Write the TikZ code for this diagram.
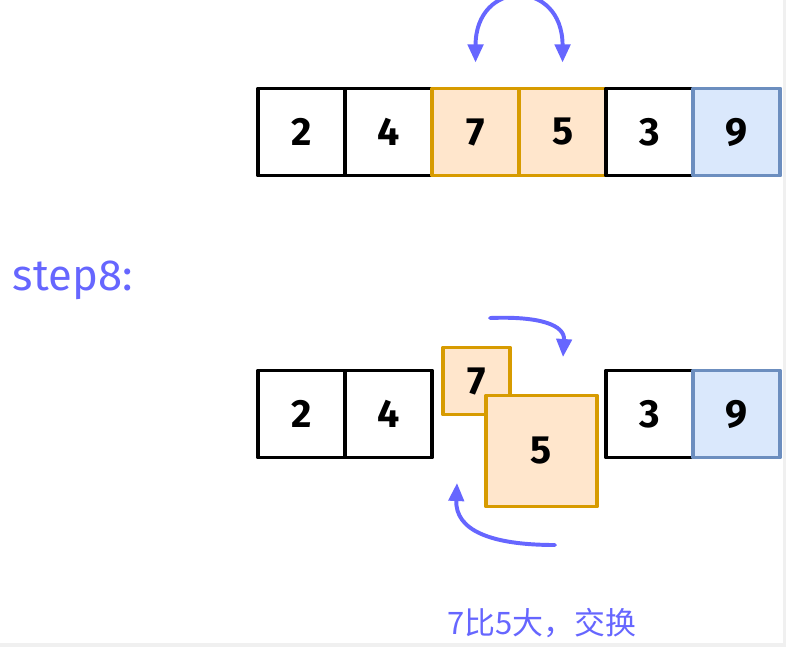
\documentclass[tikz,border=0pt]{standalone}
\usepackage{fontspec}
\setmainfont{Fira Sans}
\newfontfamily\cjkfont{Noto Sans CJK SC}
\usetikzlibrary{arrows.meta, positioning}
\definecolor{swapfill}{HTML}{FFE6CC}
\definecolor{swapline}{HTML}{D79B00}
\definecolor{sortfill}{HTML}{DAE8FC}
\definecolor{sortline}{HTML}{6C8EBF}
\definecolor{arrowblue}{HTML}{6666FF}
\definecolor{framegray}{HTML}{F0F0F0}
\tikzset{
  every picture/.style={line cap=round, line join=round},
  % array cells
  cell/.style={draw=black, line width=2.8pt, fill=white, minimum size=2.175cm,
    inner sep=0pt, outer sep=0pt, font=\fontsize{28}{32}\selectfont\bfseries},
  cellswap/.style={cell, draw=swapline, fill=swapfill},
  cellsorted/.style={cell, draw=sortline, fill=sortfill},
  % swap arrows
  swaparrow/.style={arrowblue, line width=2.8pt, -{Triangle[length=0.45cm, width=0.38cm]}},
}

\begin{document}
\begin{tikzpicture}[x=0.025cm, y=-0.025cm]
  \useasboundingbox (0,0) rectangle (786,647);
  \fill[white] (0,0) rectangle (786,647);
  \fill[framegray] (783,0) rectangle (786,647);
  \fill[framegray] (0,643) rectangle (786,647);
  % row before the swap
  \node[cell] (a1) at (301.5,132) {2};
  \node[cell, right=0pt of a1] (a2) {4};
  \node[cellswap, right=0pt of a2] (a3) {7};
  \node[cellswap, right=0pt of a3] (a4) {5};
  \node[cell, right=0pt of a4] (a5) {3};
  \node[cellsorted, right=0pt of a5] (a6) {9};
  \coordinate (t3) at ([yshift=0.65cm]a3.north);
  \coordinate (t4) at ([yshift=0.65cm]a4.north);
  \draw[swaparrow, {Triangle[length=0.45cm, width=0.38cm]}-{Triangle[length=0.45cm, width=0.38cm]}]
    (t3) .. controls ([yshift=2.1cm]t3) and ([yshift=2.1cm]t4) .. (t4);
  % step label
  \node[anchor=west, arrowblue, font=\fontsize{31}{34}\selectfont] (step) at (8,280) {step8:};
  % row while swapping
  \node[cell] (b1) at (301.5,414) {2};
  \node[cell, right=0pt of b1] (b2) {4};
  \node[cellswap, minimum size=1.675cm] (b3) at (476.5,381) {7};
  \node[cellswap, minimum size=2.775cm] (b4) at (541.5,451) {5};
  \node[cell] (b5) at (649.5,414) {3};
  \node[cellsorted, right=0pt of b5] (b6) {9};
  \coordinate (u1) at (490,318);
  \coordinate (u2) at (563,357);
  \coordinate (l1) at (555,545);
  \coordinate (l2) at (457,483);
  \draw[swaparrow] (u1) .. controls (540,316) and (565,325) .. (u2);
  \draw[swaparrow] (l1) .. controls (490,545) and (455,530) .. (l2);
  \node[arrowblue, font=\cjkfont\fontsize{22}{24}\selectfont] (note) at (542,623) {7比5大，交换};
\end{tikzpicture}
\end{document}
